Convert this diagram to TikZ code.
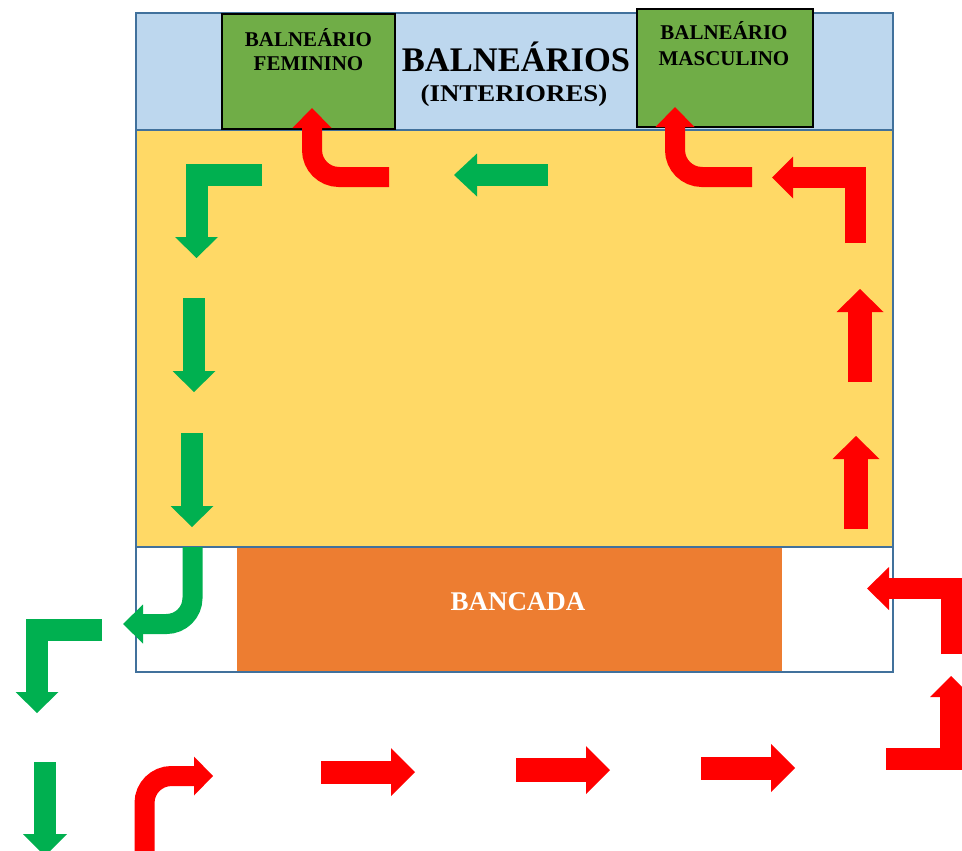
\documentclass[tikz,border=0pt]{standalone}
\usepackage{fontspec}
\setmainfont{Liberation Serif}
\definecolor{bandblue}{HTML}{BDD7EE}
\definecolor{frameblue}{HTML}{41719C}
\definecolor{yel}{HTML}{FFD966}
\definecolor{boxgreen}{HTML}{70AD47}
\definecolor{arrgreen}{HTML}{00B050}
\definecolor{arrred}{HTML}{FF0000}
\definecolor{orng}{HTML}{ED7D31}
\begin{document}
\begin{tikzpicture}[x=1pt,y=-1pt,
  frame/.style={draw=frameblue,line width=2pt},
  roombox/.style={draw=black,line width=1.5pt,fill=boxgreen},
  gs/.style={draw=arrgreen,line width=#1,line cap=butt,line join=miter},
  rs/.style={draw=arrred,line width=#1,line cap=butt,line join=miter},
  gh/.style={fill=arrgreen},
  rh/.style={fill=arrred},
  small/.style={font=\bfseries\fontsize{21}{24}\selectfont,anchor=base,inner sep=0pt},
]
\useasboundingbox (0,0) rectangle (962,851);
\clip (0,0) rectangle (962,851);
% building
\fill[bandblue] (136,13) rectangle (893,130);
\fill[yel] (136,130) rectangle (893,547);
\fill[orng] (237,547) rectangle (782,672);
\draw[frame] (136,130) -- (893,130);
\draw[frame] (136,547) -- (893,547);
\draw[frame] (136,13) rectangle (893,672);
\draw[roombox] (222,14) rectangle (395,129);
\draw[roombox] (637,9) rectangle (813,127);
% texts
\node[small] (fem1) at (308.5,47) {BALNEÁRIO};
\node[small] (fem2) at (308.5,71) {FEMININO};
\node[small] (mas1) at (724,40) {BALNEÁRIO};
\node[small] (mas2) at (724,66) {MASCULINO};
\node[font=\bfseries\fontsize{34.5}{36}\selectfont,anchor=base,inner sep=0pt] (title) at (516,72) {BALNEÁRIOS};
\node[font=\bfseries\fontsize{24}{26}\selectfont,anchor=base,inner sep=0pt,xscale=1.12,transform shape] (sub) at (514,102) {(INTERIORES)};
\node[font=\bfseries\fontsize{27}{29}\selectfont,text=white,anchor=base,inner sep=0pt] (banc) at (518,610) {BANCADA};
% ---------- green arrows ----------
% G1 L-shape top left
\draw[gs=22pt] (262,175) -- (196.5,175) -- (196.5,237.5);
\fill[gh] (196.5,258) -- (175,237) -- (218,237) -- cycle;
% G2 left arrow
\draw[gs=22pt] (548,175) -- (476.5,175);
\fill[gh] (454,175) -- (477,153.5) -- (477,196.5) -- cycle;
% G3 down
\draw[gs=22pt] (194,298) -- (194,371.5);
\fill[gh] (194,392) -- (172.5,371) -- (215.5,371) -- cycle;
% G4 down
\draw[gs=22pt] (192,433) -- (192,506.5);
\fill[gh] (192,527) -- (170.5,506) -- (213.5,506) -- cycle;
% G5 curved down then left
\draw[gs=20pt,rounded corners=26pt] (192.5,547) -- (192.5,624) -- (142.5,624);
\fill[gh] (123,624) -- (143,604.5) -- (143,643.5) -- cycle;
% G6 L-shape lower left
\draw[gs=22pt] (102,630) -- (37,630) -- (37,692.5);
\fill[gh] (37,713) -- (15.5,692) -- (58.5,692) -- cycle;
% G7 down bottom
\draw[gs=22pt] (45,762) -- (45,834.5);
\fill[gh] (45,856) -- (23,834) -- (67,834) -- cycle;
% ---------- red arrows ----------
% R1 curved up then right
\draw[rs=20pt,rounded corners=27pt] (144.5,870) -- (144.5,776) -- (194.5,776);
\fill[rh] (213,776) -- (194,756.5) -- (194,795.5) -- cycle;
% R2..R4 right arrows
\draw[rs=23pt] (321,772) -- (391.5,772);
\fill[rh] (415,772) -- (391,748) -- (391,796) -- cycle;
\draw[rs=24pt] (516,770) -- (586.5,770);
\fill[rh] (610,770) -- (586,746) -- (586,794) -- cycle;
\draw[rs=23pt] (701,768) -- (771.5,768);
\fill[rh] (795,768) -- (771,744) -- (771,792) -- cycle;
% R5 L-shape bottom right (right then up)
\draw[rs=22pt] (886,759) -- (951,759) -- (951,696.5);
\fill[rh] (951,676) -- (930,697) -- (972,697) -- cycle;
% R6 L-shape (up then left)
\draw[rs=21pt] (951,654) -- (951,588.5) -- (888.5,588.5);
\fill[rh] (867,588.5) -- (889,567) -- (889,610) -- cycle;
% R7 up arrows
\draw[rs=24pt] (856,529) -- (856,458.5);
\fill[rh] (856,436) -- (832.5,459) -- (879.5,459) -- cycle;
\draw[rs=24pt] (860,382) -- (860,311.5);
\fill[rh] (860,289) -- (836.5,312) -- (883.5,312) -- cycle;
% R8 L-shape top right (up then left)
\draw[rs=21pt] (855.5,243) -- (855.5,177.5) -- (792.5,177.5);
\fill[rh] (772,177.5) -- (793,156.5) -- (793,198.5) -- cycle;
% R9 curved to masculino
\draw[rs=20pt,rounded corners=27pt] (752,177) -- (675,177) -- (675,126.5);
\fill[rh] (675,107) -- (655.5,127) -- (694.5,127) -- cycle;
% R10 curved to feminino
\draw[rs=20pt,rounded corners=27pt] (389,177) -- (312,177) -- (312,127.5);
\fill[rh] (312,108) -- (292.5,128) -- (331.5,128) -- cycle;
\end{tikzpicture}
\end{document}
